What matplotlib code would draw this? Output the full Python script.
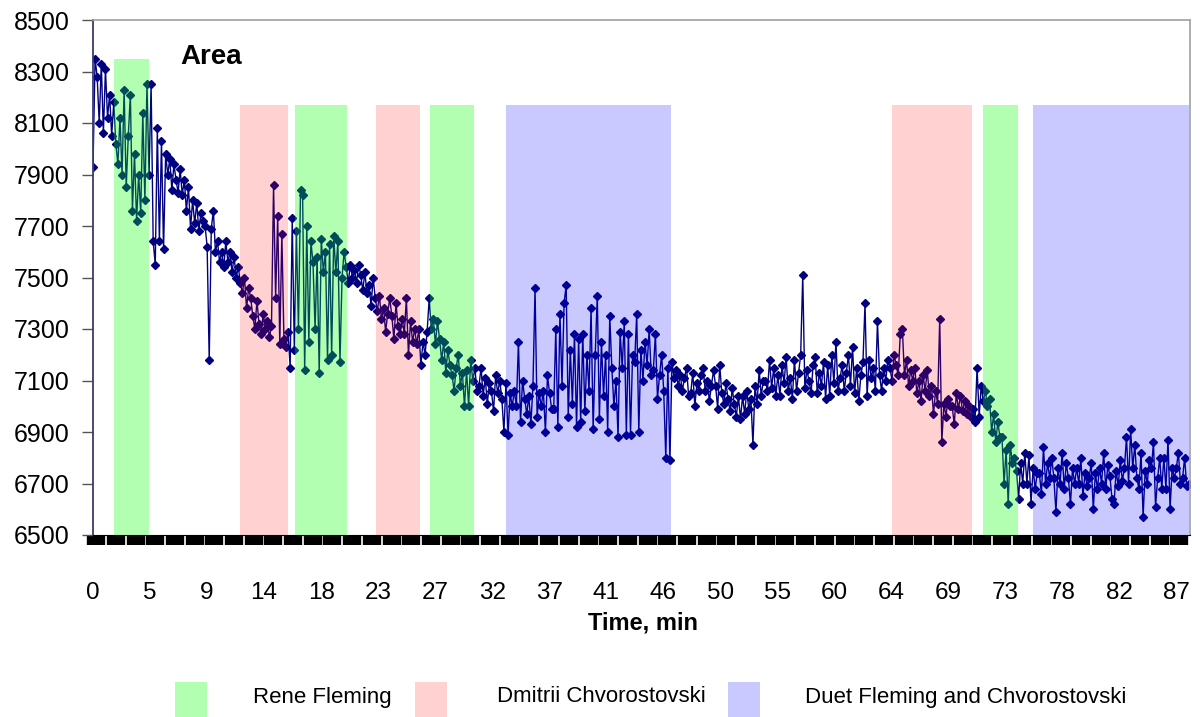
import numpy as np
import matplotlib
matplotlib.use("Agg")
import matplotlib.pyplot as plt
from matplotlib.patches import Rectangle

plt.rcParams["font.family"] = ["Liberation Sans", "DejaVu Sans"]

# ---- data --------------------------------------------------------------------
STEP = 1 / 6     # minutes between samples
DURATION = 87    # last labelled minute

# area values, 6 samples per minute (one row = one minute)
area_0_22 = [
    7930, 8350, 8280, 8100, 8330, 8060,
    8310, 8120, 8210, 8050, 8180, 8020,
    7940, 8120, 7900, 8230, 7850, 8050,
    8210, 7760, 7980, 7720, 7900, 7750,
    8140, 7800, 8250, 7900, 8250, 7640,
    7550, 8080, 7640, 8030, 7610, 7980,
    7900, 7960, 7840, 7940, 7880, 7830,
    7920, 7820, 7880, 7760, 7850, 7690,
    7800, 7710, 7790, 7680, 7750, 7720,
    7700, 7620, 7180, 7690, 7760, 7600,
    7640, 7560, 7600, 7540, 7640, 7560,
    7600, 7520, 7580, 7500, 7540, 7480,
    7440, 7500, 7380, 7460, 7420, 7350,
    7300, 7410, 7320, 7280, 7360, 7300,
    7330, 7270, 7310, 7860, 7420, 7740,
    7240, 7670, 7260, 7230, 7290, 7150,
    7730, 7220, 7680, 7300, 7840, 7820,
    7140, 7700, 7250, 7640, 7560, 7300,
    7580, 7130, 7650, 7520, 7600, 7180,
    7630, 7200, 7660, 7520, 7640, 7170,
    7500, 7600, 7540, 7480, 7550, 7500,
    7530, 7480, 7550, 7510, 7450, 7520,
]
area_22_46 = [
    7440, 7470, 7390, 7500, 7420, 7370,
    7430, 7340, 7380, 7290, 7360, 7420,
    7350, 7260, 7400, 7310, 7280, 7340,
    7280, 7420, 7200, 7330, 7250, 7300,
    7240, 7300, 7160, 7250, 7200, 7290,
    7420, 7300, 7340, 7240, 7330, 7260,
    7180, 7250, 7130, 7220, 7160, 7120,
    7060, 7150, 7200, 7080, 7130, 7000,
    7140, 7000, 7180, 7100, 7150, 7060,
    7080, 7150, 7040, 7110, 7010, 7090,
    7060, 6980, 7120, 7050, 7100, 7030,
    6900, 7090, 6890, 7050, 7000, 7060,
    7000, 7250, 6940, 7100, 7030, 6970,
    7040, 6930, 7080, 7460, 6960, 7050,
    7000, 7060, 6900, 7120, 7050, 6990,
    6990, 7300, 6920, 7360, 7080, 7400,
    7470, 6960, 7220, 7010, 7280, 6920,
    7260, 6940, 7280, 6980, 7200, 7060,
    7380, 6910, 7200, 7430, 6950, 7250,
    7040, 7200, 6900, 7350, 7150, 7000,
    7100, 6880, 7290, 7150, 7330, 6890,
    7280, 6890, 7200, 7170, 7360, 6900,
    7220, 7100, 7250, 7160, 7300, 7120,
    7140, 7280, 7030, 7120, 7200, 7060,
]
area_46_70 = [
    6800, 7150, 6790, 7170, 7110, 7140,
    7080, 7120, 7060, 7110, 7150, 7040,
    7050, 7130, 7000, 7090, 7060, 7120,
    7150, 7060, 7100, 7020, 7080, 7140,
    7080, 6990, 7160, 7050, 7010, 7090,
    7030, 6980, 7070, 7010, 6960, 7040,
    6950, 7040, 6970, 7060, 6990, 7030,
    6850, 7080, 7010, 7140, 7040, 7100,
    7100, 7060, 7180, 7070, 7150, 7040,
    7120, 7040, 7160, 7090, 7190, 7060,
    7110, 7030, 7180, 7060, 7130, 7200,
    7510, 7070, 7140, 7100, 7050, 7160,
    7190, 7050, 7130, 7080, 7170, 7030,
    7160, 7040, 7200, 7090, 7250, 7060,
    7110, 7160, 7060, 7130, 7200, 7080,
    7230, 7050, 7150, 7020, 7120, 7170,
    7400, 7040, 7180, 7110, 7150, 7060,
    7330, 7120, 7060, 7150, 7100, 7180,
    7150, 7100, 7200, 7160, 7120, 7280,
    7300, 7120, 7180, 7080, 7140, 7100,
    7150, 7050, 7100, 7020, 7120, 7060,
    7140, 7040, 7080, 6970, 7060, 7010,
    7340, 6860, 7010, 6960, 7030, 7000,
    7000, 6930, 7050, 6990, 7040, 6980,
]
area_70_88 = [
    7020, 6970, 7000, 6960, 6990, 6940,
    7150, 6960, 7080, 7020, 7060, 7000,
    7030, 6900, 6970, 6860, 6940, 6880,
    6880, 6700, 6830, 6620, 6850, 6780,
    6800, 6750, 6640, 6780, 6700, 6820,
    6700, 6810, 6620, 6760, 6680, 6740,
    6740, 6660, 6840, 6700, 6780, 6720,
    6800, 6720, 6590, 6760, 6700, 6820,
    6680, 6780, 6720, 6620, 6760, 6700,
    6760, 6700, 6800, 6650, 6740, 6690,
    6720, 6780, 6600, 6740, 6680, 6760,
    6700, 6820, 6680, 6770, 6730, 6640,
    6620, 6750, 6690, 6790, 6710, 6760,
    6880, 6700, 6910, 6760, 6850, 6720,
    6680, 6820, 6570, 6750, 6700, 6790,
    6760, 6860, 6610, 6720, 6800, 6680,
    6800, 6680, 6870, 6600, 6760, 6720,
    6760, 6820, 6700, 6720, 6800, 6690,
    6700,
]
area = np.array(area_0_22 + area_22_46 + area_46_70 + area_70_88)
time = np.arange(len(area)) * STEP

# who is singing: start / end (min), performer, top of the shaded block
seg_start = [1.7, 11.8, 16.2, 22.7, 27.1, 33.2, 64.2, 71.5, 75.5]
seg_end   = [4.5, 15.7, 20.4, 26.3, 30.6, 46.4, 70.6, 74.3, 88.0]
seg_who   = ["fleming", "dmitrii", "fleming", "dmitrii", "fleming",
             "duet", "dmitrii", "fleming", "duet"]
seg_top   = [8350, 8170, 8170, 8170, 8170, 8170, 8170, 8170, 8170]

WHO_LABELS = {"fleming": "Rene Fleming",
              "dmitrii": "Dmitrii Chvorostovski",
              "duet": "Duet Fleming and Chvorostovski"}
XTICK_LABELS = ["0", "5", "9", "14", "18", "23", "27", "32", "37", "41",
                "46", "50", "55", "60", "64", "69", "73", "78", "82", "87"]
YTICKS = [6500, 6700, 6900, 7100, 7300, 7500, 7700, 7900, 8100, 8300, 8500]

COLORS = {"fleming": ((0.0, 1.0, 0.0), 0.30),
          "dmitrii": ((1.0, 0.0, 0.0), 0.18),
          "duet":    ((0.0, 0.0, 1.0), 0.21)}

# ---- chart -------------------------------------------------------------------
fig = plt.figure(figsize=(12, 7.17), dpi=100)
ax = fig.add_axes([93 / 1200, 1 - 535 / 717, 1097 / 1200, 515 / 717])

ax.plot(time, area, color="#000080", lw=1.0, marker="D", ms=4.5,
        mec="#000080", mfc="#000080", zorder=2)

for s, e, w, top in zip(seg_start, seg_end, seg_who, seg_top):
    c, a = COLORS[w]
    ax.bar(s, top - 6500, width=e - s, bottom=6500, align="edge",
           color=c, alpha=a, lw=0, zorder=3)

ax.set_ylim(6500, 8500)
ax.set_xlim(0, 88.1)
ax.set_yticks(YTICKS)
ax.set_yticklabels([str(v) for v in YTICKS], fontsize=18)
ax.tick_params(axis="y", direction="out", length=8, width=1, color="#555555",
               pad=9)

ax.set_xticks(np.arange(len(XTICK_LABELS)) * DURATION / (len(XTICK_LABELS) - 1))
ax.set_xticklabels(XTICK_LABELS, fontsize=17.5)
ax.tick_params(axis="x", which="major", length=0, pad=34)
# Excel-style dense category ticks forming a black band under the axis
ax.xaxis.remove_overlapping_locs = False
ax.set_xticks(np.arange(0, 88, DURATION / 55) + 0.25, minor=True)
ax.tick_params(axis="x", which="minor", direction="out", length=7.5,
               width=13.2, color="black")

for side in ["top", "right"]:
    ax.spines[side].set_color("#a0a0a0")
    ax.spines[side].set_linewidth(1.2)
ax.spines["left"].set_color("#3c3c6c")
ax.spines["left"].set_linewidth(1.3)
ax.spines["bottom"].set_color("black")

ax.text(180 / 1200, 1 - 57 / 717, "Area", transform=fig.transFigure,
        fontsize=20, fontweight="bold", va="center", ha="left")
fig.text(643 / 1200, 1 - 623 / 717, "Time, min", fontsize=17,
         fontweight="bold", ha="center", va="center")

# legend row along the bottom edge
leg_box_x = [175, 415, 728]
leg_text_x = [253, 497, 805]
for bx, tx, w in zip(leg_box_x, leg_text_x, ["fleming", "dmitrii", "duet"]):
    c, a = COLORS[w]
    fig.add_artist(Rectangle((bx / 1200, 0), 32 / 1200, 35 / 717,
                             transform=fig.transFigure, color=c, alpha=a, lw=0))
    fig.text(tx / 1200, 1 - 697 / 717, WHO_LABELS[w], fontsize=16,
             ha="left", va="center")

fig.savefig("out.png", dpi=100)
